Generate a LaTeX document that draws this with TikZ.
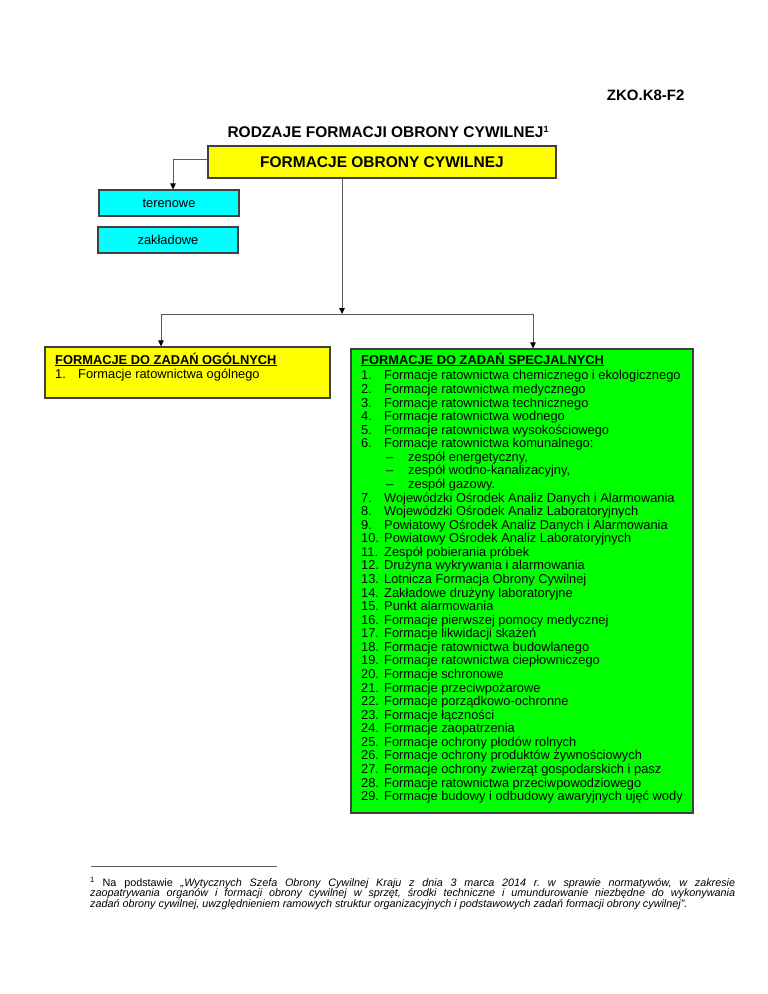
\documentclass[tikz,border=0pt]{standalone}
\usepackage{fontspec}
\setmainfont{Liberation Sans}
\usetikzlibrary{arrows.meta}
\frenchspacing

\definecolor{ocyellow}{RGB}{255,255,0}
\definecolor{occyan}{RGB}{0,255,255}
\definecolor{ocgreen}{RGB}{0,255,0}
\definecolor{ocedge}{RGB}{64,64,64}
\definecolor{ocline}{RGB}{90,90,90}

\tikzset{
  box/.style = {draw = ocedge, line width = 1.2pt, inner sep = 0pt},
  link/.style = {draw = ocline, line width = 1pt,
    -{Triangle[length = 6pt, width = 5.5pt, color = black]}},
  plain/.style = {draw = ocline, line width = 1pt}
}
\newcommand{\oclines}[1]{\vtop{\baselineskip = 13.57pt \lineskiplimit = -20pt \lineskip = 0pt #1}}
\newcommand{\nitem}[2]{\hbox{\makebox[23pt][l]{#1}#2}}
\newcommand{\ditem}[1]{\hbox{\hspace*{25pt}\makebox[22pt][l]{--}#1}}
\newcommand{\ochead}[1]{\hbox{\bfseries\underline{#1}}}

\begin{document}
\begin{tikzpicture}[x = 1pt, y = -1pt, font = \fontsize{12.85}{13.57}\selectfont]
\useasboundingbox (0, 0) rectangle (768, 994);

\node (code) at (688, 95.5) [anchor = east] {\fontsize{15}{18}\selectfont\bfseries ZKO.K8-F2};
\node (title) at (224, 137) [anchor = base west]
  {\fontsize{15.5}{18}\selectfont\bfseries RODZAJE FORMACJI OBRONY CYWILNEJ\raisebox{5pt}{\fontsize{9}{9}\selectfont 1}};

\node (ocf) at (382, 162) [box, fill = ocyellow, minimum width = 348, minimum height = 32]
  {\fontsize{15.5}{18}\selectfont\bfseries FORMACJE OBRONY CYWILNEJ};
\node (teren) at (169, 203) [box, fill = occyan, minimum width = 140, minimum height = 26] {terenowe};
\node (zakl) at (168, 240) [box, fill = occyan, minimum width = 140, minimum height = 26] {zakładowe};

\node (gen) at (187.5, 372.5) [box, fill = ocyellow, minimum width = 285, minimum height = 51] {};
\node (spec) at (522, 581) [box, fill = ocgreen, minimum width = 342, minimum height = 464] {};

\coordinate (split) at (342, 314);
\coordinate (forkl) at (161, 314);
\coordinate (forkr) at (533, 314);

\draw[link] ([yshift = 3pt]ocf.west) -| ([xshift = 4pt]teren.north);
\draw[link] (ocf.south -| split) -- (split);
\draw[link] (forkr) -- (forkl) -- (forkl |- gen.north);
\draw[link] (forkr) -- (forkr |- spec.north);

\node (genlist) at (55, 364) [anchor = base west, inner sep = 0pt] {\oclines{%
  \ochead{FORMACJE DO ZADAŃ OGÓLNYCH}\vskip 1pt
  \nitem{1.}{Formacje ratownictwa ogólnego}}};

\node (speclist) at (361, 364) [anchor = base west, inner sep = 0pt] {\oclines{%
  \ochead{FORMACJE DO ZADAŃ SPECJALNYCH}\vskip 2.4pt
  \nitem{1.}{Formacje ratownictwa chemicznego i ekologicznego}
  \nitem{2.}{Formacje ratownictwa medycznego}
  \nitem{3.}{Formacje ratownictwa technicznego}
  \nitem{4.}{Formacje ratownictwa wodnego}
  \nitem{5.}{Formacje ratownictwa wysokościowego}
  \nitem{6.}{Formacje ratownictwa komunalnego:}
  \ditem{zespół energetyczny,}
  \ditem{zespół wodno-kanalizacyjny,}
  \ditem{zespół gazowy.}
  \nitem{7.}{Wojewódzki Ośrodek Analiz Danych i Alarmowania}
  \nitem{8.}{Wojewódzki Ośrodek Analiz Laboratoryjnych}
  \nitem{9.}{Powiatowy Ośrodek Analiz Danych i Alarmowania}
  \nitem{10.}{Powiatowy Ośrodek Analiz Laboratoryjnych}
  \nitem{11.}{Zespół pobierania próbek}
  \nitem{12.}{Drużyna wykrywania i alarmowania}
  \nitem{13.}{Lotnicza Formacja Obrony Cywilnej}
  \nitem{14.}{Zakładowe drużyny laboratoryjne}
  \nitem{15.}{Punkt alarmowania}
  \nitem{16.}{Formacje pierwszej pomocy medycznej}
  \nitem{17.}{Formacje likwidacji skażeń}
  \nitem{18.}{Formacje ratownictwa budowlanego}
  \nitem{19.}{Formacje ratownictwa ciepłowniczego}
  \nitem{20.}{Formacje schronowe}
  \nitem{21.}{Formacje przeciwpożarowe}
  \nitem{22.}{Formacje porządkowo-ochronne}
  \nitem{23.}{Formacje łączności}
  \nitem{24.}{Formacje zaopatrzenia}
  \nitem{25.}{Formacje ochrony płodów rolnych}
  \nitem{26.}{Formacje ochrony produktów żywnościowych}
  \nitem{27.}{Formacje ochrony zwierząt gospodarskich i pasz}
  \nitem{28.}{Formacje ratownictwa przeciwpowodziowego}
  \nitem{29.}{Formacje budowy i odbudowy awaryjnych ujęć wody}}};

% footnote
\coordinate (rulel) at (91, 866);
\coordinate (ruler) at (277, 866);
\draw[plain, line width = 0.7pt] (rulel) -- (ruler);
\node (fnote) at (90, 886) [anchor = base west, inner sep = 0pt] {\vtop{\hsize = 645pt
  \fontsize{10.8}{10.5}\selectfont \parindent = 0pt \lineskiplimit = -20pt
  \textsuperscript{1} Na podstawie \textit{„Wytycznych Szefa Obrony Cywilnej Kraju z dnia 3 marca 2014 r. w sprawie normatywów, w zakresie}\linebreak
  \textit{zaopatrywania organów i formacji obrony cywilnej w sprzęt, środki techniczne i umundurowanie niezbędne do wykonywania}\linebreak
  \textit{zadań obrony cywilnej, uwzględnieniem ramowych struktur organizacyjnych i podstawowych zadań formacji obrony cywilnej”.}\par}};
\end{tikzpicture}
\end{document}
